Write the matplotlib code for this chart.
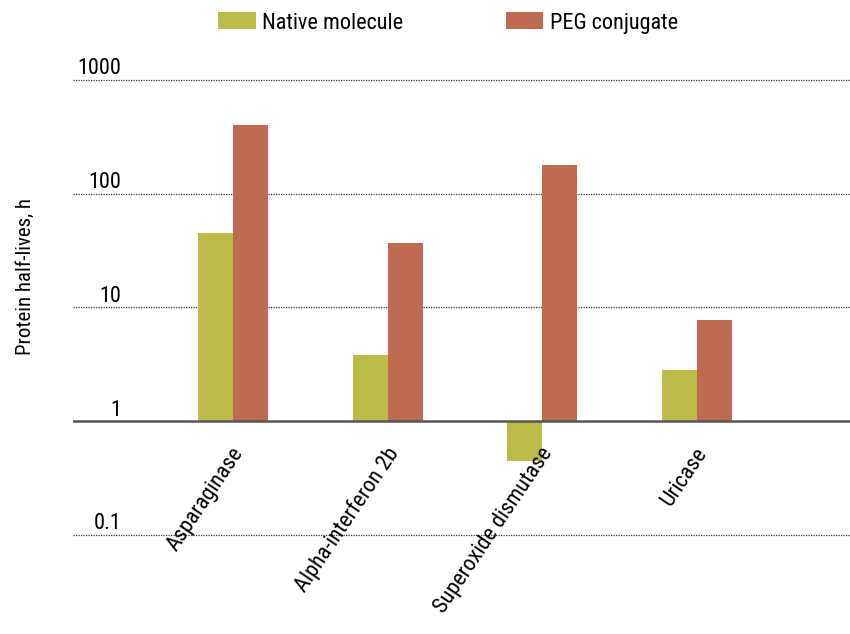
import numpy as np
import matplotlib
matplotlib.use("Agg")
import matplotlib.pyplot as plt
import matplotlib.transforms as mtransforms

plt.rcParams['font.family'] = ['Roboto Condensed', 'DejaVu Sans']

proteins = ['Asparaginase', 'Alpha-interferon 2b', 'Superoxide dismutase', 'Uricase']
native = [45, 3.8, 0.45, 2.8]
peg = [400, 37, 180, 7.7]
y_ticks = [0.1, 1, 10, 100, 1000]
y_tick_labels = ['0.1', '1', '10', '100', '1000']

native_color = '#bbbb45'
peg_color = '#c06b4f'

fig = plt.figure(figsize=(8.5, 6.34), dpi=100)
ax = fig.add_axes([0.086, 0.156, 0.914, 0.718])
ax.set_yscale('log')

x = np.arange(len(proteins))
w = 0.226
# bars grow up or down from the 1 h baseline
ax.bar(x - w / 2, np.array(native) - 1, w, bottom=1, color=native_color,
       label='Native molecule', zorder=3)
ax.bar(x + w / 2, np.array(peg) - 1, w, bottom=1, color=peg_color,
       label='PEG conjugate', zorder=3)

ax.set_ylim(0.1, 1000)
ax.set_xlim(-1.034, 3.989)

for v in y_ticks:
    if v == 1:
        ax.axhline(v, color='#555555', lw=1.8, zorder=4)
    else:
        ax.axhline(v, color='#333333', lw=0.9, ls=(0, (1, 1)), zorder=1,
                   clip_on=False)

# tick labels sit just above their gridlines
trans = mtransforms.blended_transform_factory(ax.transAxes, ax.transData)
for v, lab in zip(y_ticks, y_tick_labels):
    ax.annotate(lab, xy=(0.062, v), xycoords=trans, xytext=(0, 0.5),
                textcoords='offset points', ha='right', va='bottom', fontsize=16)

for xi, name in zip(x, proteins):
    ax.annotate(name, xy=(xi, 1), xycoords='data', xytext=(-2, -16),
                textcoords='offset points', ha='right', va='top',
                rotation=56, rotation_mode='anchor', fontsize=16)

ax.set_xticks([])
ax.set_yticks([])
ax.minorticks_off()
for s in ax.spines.values():
    s.set_visible(False)

fig.text(25 / 850, 1 - 277 / 634, 'Protein half-lives, h', rotation=90,
         ha='center', va='center', fontsize=15)

fig.legend(loc='upper center', bbox_to_anchor=(0.527, 1.012), ncol=2,
           frameon=False, fontsize=16, handlelength=1.7, handleheight=0.8,
           handletextpad=0.3, columnspacing=4.6)

fig.savefig('out.png', dpi=100)
